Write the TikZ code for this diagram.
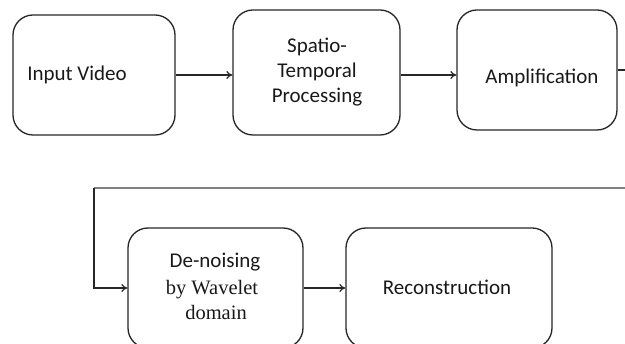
\documentclass[tikz,border=0pt]{standalone}
\usepackage{fontspec}
\setmainfont{Carlito}
\newfontfamily\timesfont{Liberation Serif}
\usetikzlibrary{arrows.meta}
\begin{document}
\begin{tikzpicture}[x=1pt,y=-1pt,
  box/.style={draw=black!85,line width=1.3pt,rounded corners=20pt,inner sep=0pt},
  lbl/.style={font=\fontsize{21}{25}\selectfont,align=center,inner sep=0pt,text=black!90},
  conn/.style={draw=black!85,line width=1.2pt,-{To[length=6pt,width=8pt]}},
  plain/.style={draw=black!85,line width=1.2pt}]
\useasboundingbox (0,0) rectangle (625,344);
\clip (0,0) rectangle (625,344);
\node[box,minimum width=162pt,minimum height=120pt] (b1) at (94,75) {};
\node[box,minimum width=167pt,minimum height=125pt] (b2) at (316.5,72.5) {};
\node[box,minimum width=160pt,minimum height=120pt] (b3) at (537,70) {};
\node[box,minimum width=175pt,minimum height=120pt] (b4) at (215.5,288) {};
\node[box,minimum width=206pt,minimum height=120pt] (b5) at (449,288) {};
\node[lbl] (t1) at (77,75) {Input Video};
\node[lbl] (t2) at (317,72) {Spatio-\\Temporal\\Processing};
\node[lbl] (t3) at (542,78) {Amplification};
\node[lbl] (t4a) at (215,262) {De-noising};
\node[lbl,font=\timesfont\fontsize{20.5}{25}\selectfont] (t4b) at (212,300) {by Wavelet\\\hspace*{8pt}domain};
\node[lbl] (t5) at (447,287) {Reconstruction};
\coordinate (r1) at (640,70);
\coordinate (r2) at (640,188);
\coordinate (c1) at (94,188);
\draw[conn] (b1.east) -- (b1.east -| b2.west);
\draw[conn] (b2.east |- b1.east) -- (b3.west |- b1.east);
\draw[plain] (b3.east) -- (r1);
\draw[draw=black!50,line width=2pt] (r2) -- (c1);
\draw[conn] (c1) |- (b4.west);
\draw[conn] (b4.east) -- (b5.west);
\end{tikzpicture}
\end{document}
